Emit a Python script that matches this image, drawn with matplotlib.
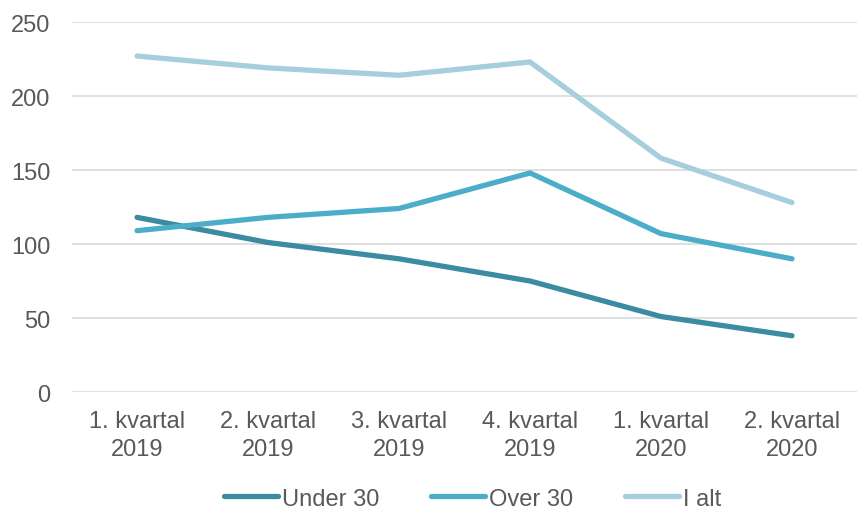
import matplotlib
matplotlib.use('Agg')
import matplotlib.pyplot as plt

categories = ['1. kvartal\n2019', '2. kvartal\n2019', '3. kvartal\n2019',
              '4. kvartal\n2019', '1. kvartal\n2020', '2. kvartal\n2020']
under_30 = [118, 101, 90, 75, 51, 38]
over_30 = [109, 118, 124, 148, 107, 90]
i_alt = [227, 219, 214, 223, 158, 128]

plt.rcParams['font.family'] = ['Liberation Sans', 'DejaVu Sans']

fig = plt.figure(figsize=(8.58, 5.10), dpi=100)
ax = fig.add_axes([0.0834, 0.2294, 0.916, 0.7255])

x = range(len(categories))
lw = 3.8
ax.plot(x, under_30, color='#3B8BA1', lw=lw, solid_capstyle='round', label='Under 30', zorder=3)
ax.plot(x, over_30, color='#4BADC8', lw=lw, solid_capstyle='round', label='Over 30', zorder=3)
ax.plot(x, i_alt, color='#A6CEDC', lw=lw, solid_capstyle='round', label='I alt', zorder=3)

ax.set_xlim(-0.5, len(categories) - 0.5)
ax.set_ylim(0, 250)
ax.set_yticks(range(0, 251, 50))
ax.set_xticks(list(x))
ax.set_xticklabels(categories)
ax.grid(axis='y', color='#D9D9D9', lw=1.2)
ax.set_axisbelow(True)
for s in ax.spines.values():
    s.set_visible(False)
ax.tick_params(length=0, labelsize=17, labelcolor='#595959')
ax.tick_params(axis='y', pad=15)
ax.tick_params(axis='x', pad=13)
for lbl in ax.get_xticklabels():
    lbl.set_linespacing(1.35)

leg = ax.legend(loc='lower center', bbox_to_anchor=(0.51, -0.375), ncol=3,
                frameon=False, fontsize=17, handlelength=2.3, handletextpad=0.15,
                columnspacing=2.2)
for t in leg.get_texts():
    t.set_color('#595959')

fig.savefig('out.png', dpi=100)
